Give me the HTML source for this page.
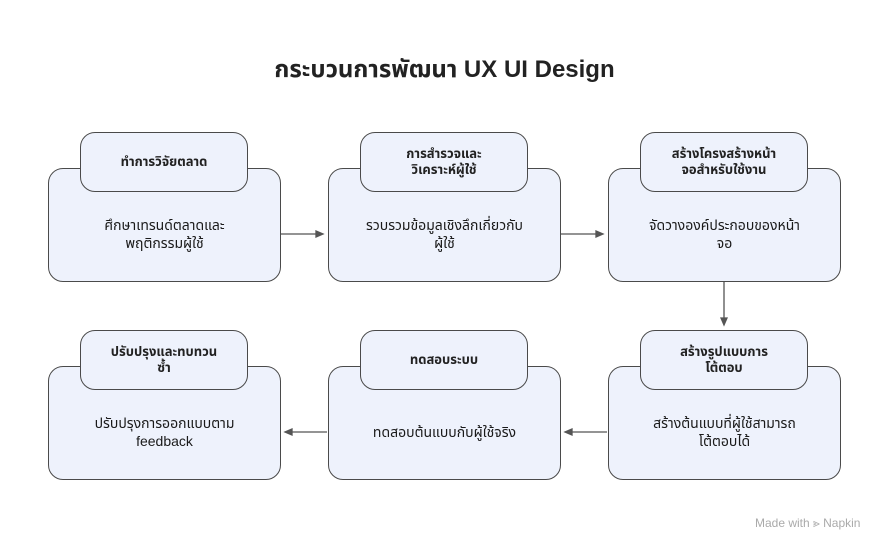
<!DOCTYPE html>
<html><head><meta charset="utf-8"><style>
body{margin:0;width:889px;height:552px;background:#fff;position:relative;overflow:hidden;font-family:"Liberation Sans","Noto Sans Thai","Tlwg Typo",sans-serif;color:#222}
.b{position:absolute;box-sizing:border-box;background:#eef2fc;border:1.3px solid #4a4a4a;border-radius:15px;display:flex;align-items:center;justify-content:center;text-align:center}
.big{width:233px;height:114px;font-size:14px;line-height:18px;padding:18px 10px 0;color:#1a1a1a}
.hd{width:168px;height:60px;font-size:13px;font-weight:bold;line-height:16px;padding:0 8px}
.t{position:absolute;left:0;width:889px;top:52px;text-align:center;font-size:24px;font-weight:bold}
svg{position:absolute;left:0;top:0}
</style></head><body>
<div class="t">กระบวนการพัฒนา UX UI Design</div>
<svg width="889" height="552"><g stroke="#555" stroke-width="1.3" fill="#555">
<line x1="281" y1="234" x2="318" y2="234"/><polygon points="323,234 316,231 316,237"/>
<line x1="561" y1="234" x2="598" y2="234"/><polygon points="603,234 596,231 596,237"/>
<line x1="724" y1="282" x2="724" y2="320"/><polygon points="724,325 721,318 727,318"/>
<line x1="607" y1="432" x2="570" y2="432"/><polygon points="565,432 572,429 572,435"/>
<line x1="327" y1="432" x2="290" y2="432"/><polygon points="285,432 292,429 292,435"/>
</g></svg>
<div class="b big" style="left:48px;top:168px">ศึกษาเทรนด์ตลาดและ<br>พฤติกรรมผู้ใช้</div>
<div class="b hd" style="left:80px;top:132px">ทำการวิจัยตลาด</div>
<div class="b big" style="left:328px;top:168px">รวบรวมข้อมูลเชิงลึกเกี่ยวกับ<br>ผู้ใช้</div>
<div class="b hd" style="left:360px;top:132px">การสำรวจและ<br>วิเคราะห์ผู้ใช้</div>
<div class="b big" style="left:608px;top:168px">จัดวางองค์ประกอบของหน้า<br>จอ</div>
<div class="b hd" style="left:640px;top:132px">สร้างโครงสร้างหน้า<br>จอสำหรับใช้งาน</div>
<div class="b big" style="left:48px;top:366px">ปรับปรุงการออกแบบตาม<br>feedback</div>
<div class="b hd" style="left:80px;top:330px">ปรับปรุงและทบทวน<br>ซ้ำ</div>
<div class="b big" style="left:328px;top:366px">ทดสอบต้นแบบกับผู้ใช้จริง</div>
<div class="b hd" style="left:360px;top:330px">ทดสอบระบบ</div>
<div class="b big" style="left:608px;top:366px">สร้างต้นแบบที่ผู้ใช้สามารถ<br>โต้ตอบได้</div>
<div class="b hd" style="left:640px;top:330px">สร้างรูปแบบการ<br>โต้ตอบ</div>
<div style="position:absolute;left:755px;top:516px;font-size:12px;color:#aaa">Made with ⪢ Napkin</div>
</body></html>
